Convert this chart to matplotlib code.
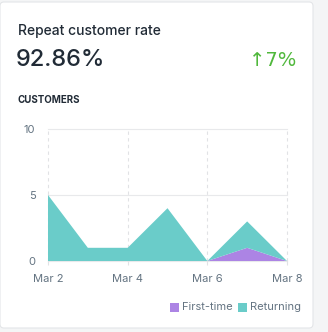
import matplotlib.pyplot as plt
from matplotlib.patches import FancyBboxPatch, Rectangle

# customers per day, Mar 2 - Mar 8
days = ['Mar 2', 'Mar 3', 'Mar 4', 'Mar 5', 'Mar 6', 'Mar 7', 'Mar 8']
first_time = [0, 0, 0, 0, 0, 1, 0]
returning = [5, 1, 1, 4, 0, 2, 0]
tick_days = ['Mar 2', 'Mar 4', 'Mar 6', 'Mar 8']
y_ticks = [0, 5, 10]

title = 'Repeat customer rate'
rate = '92.86%'
change = '\u21917%'

c_first = '#ac84e4'
c_return = '#6accc9'
c_text = '#212b36'
c_muted = '#637381'

plt.rcParams['font.family'] = ['Inter', 'DejaVu Sans']

fig = plt.figure(figsize=(3.28, 3.32), dpi=100)
fig.patch.set_facecolor('#f4f5f6')

# white card behind everything
card = FancyBboxPatch((0.0, 4 / 332), 313 / 328, 326 / 332,
                      boxstyle='round,pad=0,rounding_size=0.012',
                      transform=fig.transFigure, facecolor='white',
                      edgecolor='#e3e5e8', linewidth=0.8, zorder=-10)
fig.patches.append(card)

fig.text(18 / 328, 1 - 31 / 332, title, fontsize=10, color=c_text,
         va='center', fontweight='medium')
fig.text(16 / 328, 1 - 60 / 332, rate, fontsize=17, color=c_text,
         va='center', fontweight='medium')
fig.text(296 / 328, 1 - 60 / 332, change, fontsize=14, color='#50b83c',
         va='center', ha='right', family=['DejaVu Sans'])
fig.text(18 / 328, 1 - 100 / 332, 'CUSTOMERS', fontsize=7, color=c_text,
         va='center', fontweight='bold')

ax = fig.add_axes([48 / 328, 71 / 332, 239 / 328, 132 / 332])
x = list(range(len(days)))
ax.stackplot(x, first_time, returning, colors=[c_first, c_return],
             linewidth=0, zorder=2)

ax.set_xlim(0, len(days) - 1)
ax.set_ylim(0, 10)
ax.set_yticks(y_ticks)
ax.set_xticks([days.index(d) for d in tick_days])
ax.set_xticklabels(tick_days)

for yv in y_ticks:
    ax.axhline(yv, color='#e8e9eb', linewidth=0.8, zorder=1, clip_on=False)
for d in tick_days:
    ax.axvline(days.index(d), color='#e1e2e5', linewidth=0.8,
               linestyle=(0, (3, 3)), zorder=1, clip_on=False)

for s in ax.spines.values():
    s.set_visible(False)
ax.tick_params(axis='y', length=0, pad=9, labelsize=8, labelcolor=c_muted)
ax.tick_params(axis='x', length=3, color='#e1e2e5', pad=6, labelsize=8,
               labelcolor=c_muted)
ax.set_facecolor('none')

# legend
for label, color, xs, xt in [('First-time', c_first, 170, 182),
                             ('Returning', c_return, 238, 250)]:
    fig.patches.append(Rectangle((xs / 328, 1 - 312 / 332), 9 / 328, 9 / 332,
                                 transform=fig.transFigure, facecolor=color,
                                 edgecolor='none'))
    fig.text(xt / 328, 1 - 307.5 / 332, label, fontsize=8, color=c_muted,
             va='center')

fig.savefig('out.png', dpi=100, facecolor=fig.get_facecolor())
